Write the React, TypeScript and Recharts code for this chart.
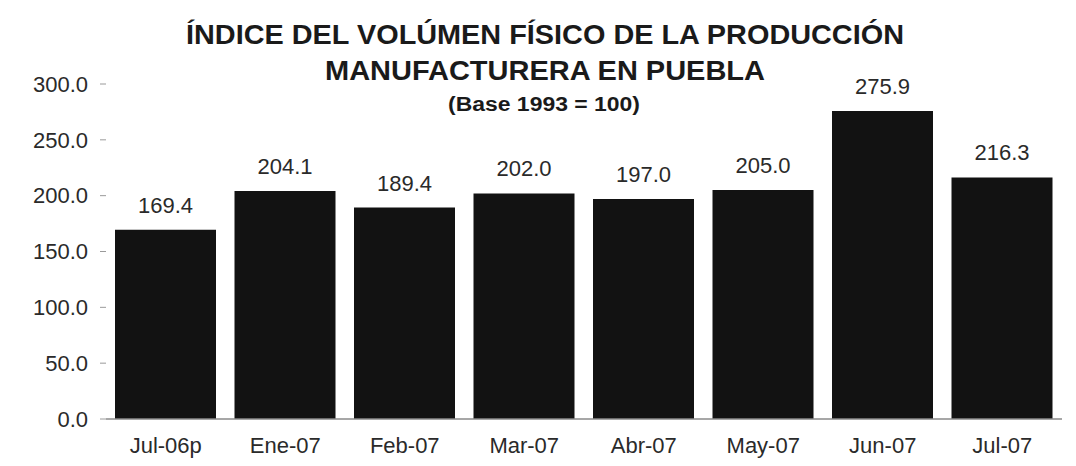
import React from "react";
import { BarChart, Bar, XAxis, YAxis, LabelList } from "recharts";

const categories = ["Jul-06p", "Ene-07", "Feb-07", "Mar-07", "Abr-07", "May-07", "Jun-07", "Jul-07"];
const values = [169.4, 204.1, 189.4, 202.0, 197.0, 205.0, 275.9, 216.3];
const yTicks = [0, 50, 100, 150, 200, 250, 300];
const titleLines = [
  "ÍNDICE DEL VOLÚMEN FÍSICO DE LA PRODUCCIÓN",
  "MANUFACTURERA EN PUEBLA",
];
const subtitle = "(Base 1993 = 100)";

const data = categories.map((c, i) => ({ name: c, value: values[i] }));

const FONT = "'Liberation Sans', Arial, Helvetica, sans-serif";
const NARROW = "'Liberation Sans Narrow', 'Arial Narrow', 'Liberation Sans', Arial, sans-serif";

export default function App() {
  return (
    <div style={{ position: "absolute", left: 0, top: 0, width: 1076, height: 466, background: "#fff" }}>
      <BarChart
        width={1076}
        height={466}
        data={data}
        margin={{ top: 84, right: 14, bottom: 17, left: 0 }}
        barSize={101}
      >
        <YAxis
          width={106}
          domain={[0, 300]}
          ticks={yTicks}
          interval={0}
          tickFormatter={(v: number) => v.toFixed(1)}
          axisLine={false}
          tickLine={{ stroke: "#9a9a9a" }}
          tickSize={6}
          tickMargin={12}
          tick={{ fill: "#2a2a2a", fontSize: 22, fontFamily: FONT }}
        />
        <XAxis
          dataKey="name"
          height={30}
          interval={0}
          axisLine={{ stroke: "#8a8a8a", strokeWidth: 1.5 }}
          tickLine={false}
          tickSize={0}
          tickMargin={18}
          tick={{ fill: "#2a2a2a", fontSize: 22, fontFamily: FONT }}
        />
        <Bar dataKey="value" fill="#121212" isAnimationActive={false}>
          <LabelList
            dataKey="value"
            position="top"
            offset={17}
            formatter={(v: number) => v.toFixed(1)}
            style={{ fill: "#2a2a2a", fontSize: 22, fontFamily: FONT }}
          />
        </Bar>
      </BarChart>
      <svg
        width={1076}
        height={466}
        style={{ position: "absolute", left: 0, top: 0, pointerEvents: "none" }}
      >
        <text x={545} y={44} textAnchor="middle" fontFamily={NARROW} fontWeight="bold" fontSize={28} fill="#1a1a1a" textLength={718} lengthAdjust="spacingAndGlyphs">
          {titleLines[0]}
        </text>
        <text x={545} y={80} textAnchor="middle" fontFamily={NARROW} fontWeight="bold" fontSize={28} fill="#1a1a1a" textLength={440} lengthAdjust="spacingAndGlyphs">
          {titleLines[1]}
        </text>
        <text x={544} y={111} textAnchor="middle" fontFamily={NARROW} fontWeight="bold" fontSize={20} fill="#1a1a1a" textLength={192} lengthAdjust="spacingAndGlyphs">
          {subtitle}
        </text>
      </svg>
    </div>
  );
}
